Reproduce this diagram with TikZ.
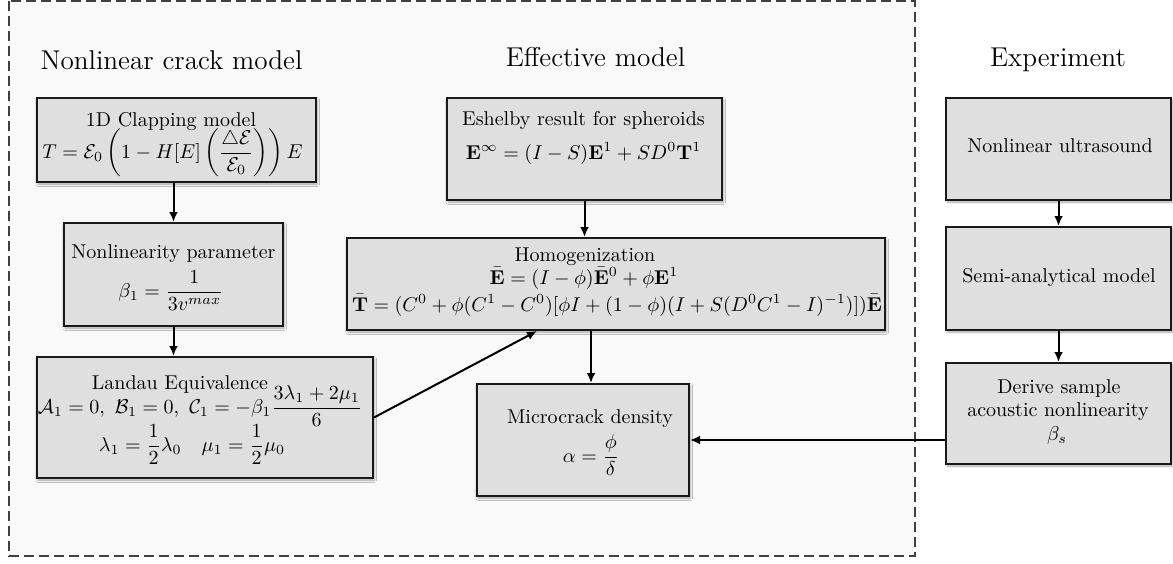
\documentclass[tikz,border=0pt]{standalone}
\usepackage{amsmath}
\usepackage{amssymb}
\usetikzlibrary{arrows.meta,shadows.blur}
\definecolor{boxfill}{HTML}{DFDFDF}
\definecolor{panelfill}{HTML}{F9F9F9}
\begin{document}
\begin{tikzpicture}[x=0.5pt,y=-0.5pt,
  box/.style={draw=black!90, line width=1pt, fill=boxfill, inner sep=0pt,
    blur shadow={shadow xshift=0.6pt, shadow yshift=-1pt, shadow blur radius=1.2pt, shadow opacity=35}},
  lbl/.style={anchor=base, inner sep=0pt, font=\normalsize, text=black},
  ttl/.style={anchor=base, inner sep=0pt, font=\fontsize{13.6}{16}\selectfont, text=black},
  arr/.style={draw=black, line width=1pt, -{Latex[length=5pt,width=4.4pt]}},
  panel/.style={fill=panelfill, draw=black!75, dashed, dash pattern=on 5pt off 2.5pt, line width=0.75pt}]
\useasboundingbox (0,0) rectangle (1173,563);
\draw[panel] (9,1) rectangle (915,556);

% titles
\node[ttl] (t1) at (171.5,69) {Nonlinear crack model};
\node[ttl] (t2) at (595.5,66) {Effective model};
\node[ttl] (t3) at (1058,66) {Experiment};

% boxes
\node[box, minimum width=139.5pt, minimum height=42pt] (clap) at (176.5,140) {};
\node[box, minimum width=109.5pt, minimum height=51.5pt] (nonlin) at (173.5,274.5) {};
\node[box, minimum width=168pt, minimum height=60.5pt] (landau) at (205,417.5) {};
\node[box, minimum width=137.5pt, minimum height=51pt] (eshelby) at (584.5,149) {};
\node[box, minimum width=269pt, minimum height=46pt] (homog) at (616,284) {};
\node[box, minimum width=106pt, minimum height=56pt] (micro) at (583,440) {};
\node[box, minimum width=112.5pt, minimum height=51pt] (ultra) at (1058.5,149) {};
\node[box, minimum width=112.5pt, minimum height=51.5pt] (semi) at (1058.5,278.5) {};
\node[box, minimum width=112.5pt, minimum height=50.5pt] (derive) at (1058.5,413.5) {};

% box texts
\node[lbl] (clapa) at (171,126) {1D Clapping model};
\node[lbl] (clapb) at (172.5,158) {$\displaystyle T=\mathcal{E}_0\left(1-H[E]\left(\frac{\triangle\mathcal{E}}{\mathcal{E}_0}\right)\right)E$};

\node[lbl] (nonlina) at (173.5,258) {Nonlinearity parameter};
\node[lbl] (nonlinb) at (171,297) {$\displaystyle \beta_1=\frac{1}{3v^{max}}$};

\node[lbl] (landaua) at (180,389) {Landau Equivalence};
\node[lbl] (landaub) at (200,413) {$\displaystyle \mathcal{A}_1=0,\ \mathcal{B}_1=0,\ \mathcal{C}_1=-\beta_1\frac{3\lambda_1+2\mu_1}{6}$};
\node[lbl] (landauc) at (192,451) {$\displaystyle \lambda_1=\frac{1}{2}\lambda_0\quad\mu_1=\frac{1}{2}\mu_0$};

\node[lbl] (eshelbya) at (583.5,125) {Eshelby result for spheroids};
\node[lbl] (eshelbyb) at (583.5,159) {$\mathbf{E}^{\infty}=(I-S)\mathbf{E}^1+SD^0\mathbf{T}^1$};

\node[lbl] (homoga) at (585,261) {Homogenization};
\node[lbl] (homogb) at (584,284) {$\bar{\mathbf{E}}=(I-\phi)\bar{\mathbf{E}}^0+\phi\mathbf{E}^1$};
\node[lbl] (homogc) at (617,311) {$\bar{\mathbf{T}}=(C^0+\phi(C^1-C^0)[\phi I+(1-\phi)(I+S(D^0C^1-I)^{-1})])\bar{\mathbf{E}}$};

\node[lbl] (microa) at (590,423) {Microcrack density};
\node[lbl] (microb) at (591,462) {$\displaystyle \alpha=\frac{\phi}{\delta}$};

\node[lbl] (ultraa) at (1060,152) {Nonlinear ultrasound};
\node[lbl] (semia) at (1059,282) {Semi-analytical model};
\node[lbl] (derivea) at (1059,393) {Derive sample};
\node[lbl] (deriveb) at (1058,416) {acoustic nonlinearity};
\node[lbl] (derivec) at (1057,440) {$\beta_s$};

% connectors
\draw[arr] (nonlin.north |- clap.south) -- (nonlin.north);
\draw[arr] (nonlin.south) -- (nonlin.south |- landau.north);
\draw[arr] (eshelby.south) -- (eshelby.south |- homog.north);
\draw[arr] (landau.east) -- ([xshift=-39.5pt]homog.south);
\draw[arr] ([xshift=4pt]micro.north |- homog.south) -- ([xshift=4pt]micro.north);
\draw[arr] (ultra.south) -- (semi.north);
\draw[arr] (semi.south) -- (derive.north);
\draw[arr] (derive.west |- micro.east) -- (micro.east);
\end{tikzpicture}
\end{document}
